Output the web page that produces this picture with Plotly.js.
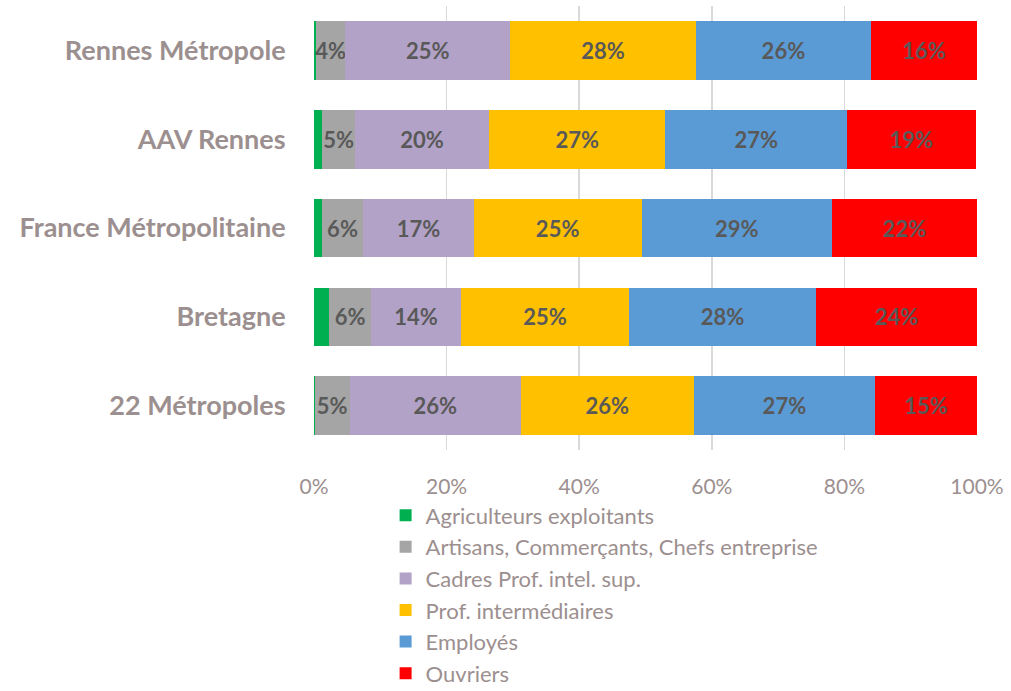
<!DOCTYPE html>
<html>
<head>
<meta charset="utf-8">
<script src="https://cdn.plot.ly/plotly-3.0.1.min.js"></script>
<style>html,body{margin:0;padding:0;background:#fff;}#chart{width:1011px;height:691px;}</style>
</head>
<body>
<div id="chart"></div>
<script>
const categories = ["Rennes Métropole", "AAV Rennes", "France Métropolitaine", "Bretagne", "22 Métropoles"];
const seriesNames = ["Agriculteurs exploitants", "Artisans, Commerçants, Chefs entreprise", "Cadres Prof. intel. sup.", "Prof. intermédiaires", "Employés", "Ouvriers"];
const agriculteurs = [0.3, 1.2, 1.2, 2.3, 0.1];
const artisans = [4.4, 5.0, 6.2, 6.3, 5.3];
const cadres = [24.9, 20.2, 16.7, 13.6, 25.8];
const profInter = [28.0, 26.6, 25.3, 25.3, 26.1];
const employes = [26.4, 27.4, 28.7, 28.2, 27.3];
const ouvriers = [16.0, 19.4, 21.9, 24.3, 15.4];
const tickVals = [0, 20, 40, 60, 80, 100];
const tickLabels = ["0%", "20%", "40%", "60%", "80%", "100%"];

const seriesValues = [agriculteurs, artisans, cadres, profInter, employes, ouvriers];
const colors = ["#00B050", "#A5A5A5", "#B3A2C7", "#FFC000", "#5B9BD5", "#FF0000"];

const traces = seriesValues.map((vals, i) => ({
  type: "bar",
  orientation: "h",
  name: seriesNames[i],
  x: vals,
  y: categories,
  marker: {color: colors[i], line: {width: 0}},
  texttemplate: i === 0 ? "" : "%{x:.0f}%",
  textposition: i === 0 ? "none" : "inside",
  insidetextanchor: "middle",
  textangle: 0,
  constraintext: "none",
  textfont: {family: "Lato, sans-serif", size: 22, color: "#595959", weight: "bold"},
  hoverinfo: "skip"
}));

const layout = {
  width: 1011, height: 691,
  margin: {l: 314, r: 34, t: 6, b: 241, autoexpand: false},
  barmode: "stack",
  bargap: 0.34,
  paper_bgcolor: "#fff",
  plot_bgcolor: "#fff",
  font: {family: "Lato, sans-serif", color: "#9C8F8F"},
  xaxis: {
    range: [0, 100],
    tickvals: tickVals,
    ticktext: tickLabels,
    showgrid: true,
    gridcolor: "#D9D9D9",
    gridwidth: 1.5,
    zeroline: false,
    showline: false,
    ticks: "outside",
    ticklen: 18,
    tickcolor: "rgba(0,0,0,0)",
    tickfont: {size: 21, color: "#9C8F8F"},
    fixedrange: true
  },
  yaxis: {
    autorange: "reversed",
    showgrid: false,
    zeroline: false,
    showline: false,
    ticks: "outside",
    ticklen: 22,
    tickcolor: "rgba(0,0,0,0)",
    tickfont: {size: 27, color: "#9C8F8F", weight: "bold"},
    fixedrange: true
  },
  showlegend: true,
  legend: {
    orientation: "v",
    traceorder: "normal",
    x: 0.108, xanchor: "left",
    y: -0.1, yanchor: "top",
    font: {size: 22, color: "#9C8F8F"},
    bgcolor: "rgba(0,0,0,0)"
  }
};

Plotly.newPlot("chart", traces, layout, {displayModeBar: false, staticPlot: true});
</script>
</body>
</html>
